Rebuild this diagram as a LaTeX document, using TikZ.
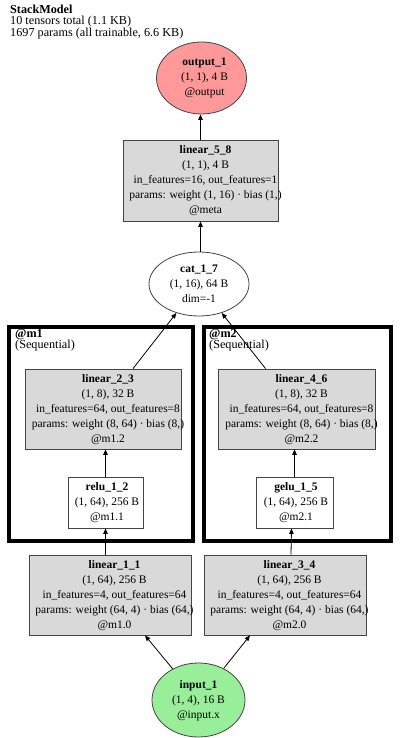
\documentclass[tikz,border=0pt]{standalone}
\usepackage{fontspec}
\setmainfont{Liberation Serif}
\usetikzlibrary{shapes.geometric,arrows.meta}
\newcommand{\lbl}[2]{\makebox[0pt]{\hspace*{#1}\begin{tabular}{@{}c@{}}#2\end{tabular}}}
\definecolor{boxfill}{HTML}{D9D9D9}
\definecolor{outfill}{HTML}{FF9999}
\definecolor{infill}{HTML}{99EE99}
\definecolor{bordergray}{HTML}{444444}
\begin{document}
\begin{tikzpicture}[x=1pt,y=-1pt,
  txt/.style={font=\fontsize{11.5}{15}\selectfont},
  opbox/.style={txt, draw=bordergray, line width=0.8pt, rectangle, inner sep=0pt},
  grayop/.style={opbox, fill=boxfill},
  oval/.style={txt, draw=bordergray, line width=0.8pt, ellipse, inner sep=0pt},
  cluster/.style={draw=black, line width=4pt, rectangle, inner sep=0pt},
  clab/.style={font=\fontsize{12.2}{11.5}\selectfont, anchor=base west, inner sep=0pt},
  arr/.style={draw=black, line width=0.8pt, -{Triangle[length=5.5pt,width=4.5pt]}}
]
\useasboundingbox (0,0) rectangle (400,738);
% title
\node[clab] (t1) at (10,13.5) {\textbf{StackModel}};
\node[clab] (t2) at (10,25) {10 tensors total (1.1 KB)};
\node[clab] (t3) at (10,36.5) {1697 params (all trainable, 6.6 KB)};
% clusters
\node[cluster, minimum width=184pt, minimum height=214pt] (m1) at (101,434) {};
\node[cluster, minimum width=187pt, minimum height=214pt] (m2) at (297.5,434) {};
\node[clab] (m1a) at (15,337) {\textbf{@m1}};
\node[clab] (m1b) at (15,348) {(Sequential)};
\node[clab] (m2a) at (209,337) {\textbf{@m2}};
\node[clab] (m2b) at (209,348) {(Sequential)};
% nodes
\node[oval, fill=outfill, minimum width=90pt, minimum height=72pt] (out) at (201.5,78)
  {\lbl{6pt}{\textbf{output\_1}\\(1, 1), 4 B\\@output}};
\node[grayop, minimum width=155pt, minimum height=81pt] (lin58) at (200.5,180.5)
  {\lbl{10pt}{\textbf{linear\_5\_8}\\(1, 1), 4 B\\in\_features=16, out\_features=1\\params: weight (1, 16) · bias (1,)\\@meta}};
\node[oval, fill=white, minimum width=100pt, minimum height=64pt] (cat) at (199,284)
  {\lbl{0pt}{\textbf{cat\_1\_7}\\(1, 16), 64 B\\dim=-1}};
\node[grayop, minimum width=156pt, minimum height=80pt] (lin23) at (103,409)
  {\lbl{10pt}{\textbf{linear\_2\_3}\\(1, 8), 32 B\\in\_features=64, out\_features=8\\params: weight (8, 64) · bias (8,)\\@m1.2}};
\node[opbox, fill=white, minimum width=75pt, minimum height=51pt] (relu) at (105.5,502.5)
  {\lbl{3pt}{\textbf{relu\_1\_2}\\(1, 64), 256 B\\@m1.1}};
\node[grayop, minimum width=157pt, minimum height=80pt] (lin46) at (296.5,409)
  {\lbl{10pt}{\textbf{linear\_4\_6}\\(1, 8), 32 B\\in\_features=64, out\_features=8\\params: weight (8, 64) · bias (8,)\\@m2.2}};
\node[opbox, fill=white, minimum width=77pt, minimum height=51pt] (gelu) at (294.5,502.5)
  {\lbl{3pt}{\textbf{gelu\_1\_5}\\(1, 64), 256 B\\@m2.1}};
\node[grayop, minimum width=162pt, minimum height=80pt] (lin11) at (110,595)
  {\lbl{9pt}{\textbf{linear\_1\_1}\\(1, 64), 256 B\\in\_features=4, out\_features=64\\params: weight (64, 4) · bias (64,)\\@m1.0}};
\node[grayop, minimum width=162pt, minimum height=80pt] (lin34) at (285,595)
  {\lbl{9pt}{\textbf{linear\_3\_4}\\(1, 64), 256 B\\in\_features=4, out\_features=64\\params: weight (64, 4) · bias (64,)\\@m2.0}};
\node[oval, fill=infill, minimum width=93pt, minimum height=74pt] (in) at (198.5,700)
  {\lbl{0pt}{\textbf{input\_1}\\(1, 4), 16 B\\@input.x}};
% edges
\draw[arr] (in) -- ([xshift=35pt]lin11.south);
\draw[arr] (in) -- ([xshift=-35pt]lin34.south);
\draw[arr] (relu.south |- lin11.north) -- (relu.south);
\draw[arr] ([xshift=6pt]lin34.north) -- ([xshift=-3pt]gelu.south);
\draw[arr] (relu.north) -- (relu.north |- lin23.south);
\draw[arr] (gelu.north) -- (gelu.north |- lin46.south);
\draw[arr] ([xshift=30pt]lin23.north) -- (cat);
\draw[arr] ([xshift=-31pt]lin46.north) -- (cat);
\draw[arr] (cat.north -| lin58.south) -- (lin58.south);
\draw[arr] (lin58.north) -- (lin58.north |- out.south);
\end{tikzpicture}
\end{document}
